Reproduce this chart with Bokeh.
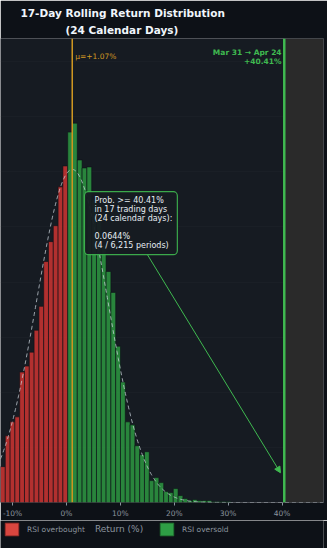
import numpy as np
from bokeh.plotting import figure
from bokeh.layouts import column
from bokeh.models import (Range1d, FixedTicker, SingleIntervalTicker, PrintfTickFormatter, Span,
                          BoxAnnotation, Label, Legend, LegendItem, Arrow, NormalHead, Title)
from bokeh.embed import file_html
from bokeh.resources import INLINE

# ---------------- data ----------------
bin_start = -12.24          # left edge of first visible bin (%)
bin_width = 0.8905          # bin width (%)
counts = [36, 67, 81, 86, 131, 137, 151, 173, 197, 242, 262, 278, 317, 338,
          372, 381, 344, 336, 337, 304, 284, 259, 232, 211, 157, 121, 81, 78,
          57, 48, 51, 22, 25, 20, 11, 10, 14, 7, 4, 2, 3, 2, 2, 2, 1, 1, 1, 1]
total_periods = 6215
exceed_count = 4
mean_return = 1.07
std_return = 6.6
event_return = 40.41
event_dates = "Mar 31 \u2192 Apr 24"
trading_days = 17
calendar_days = 24
tick_values = [-10, 0, 10, 20, 30, 40]
legend_labels = ["RSI overbought", "RSI oversold"]
x_label = "Return (%)"

FONT = "DejaVu Sans"
RED = "#da3633"
GREEN = "#2ea043"
LGREEN = "#3fb950"
ORANGE = "#d29922"
GRAY = "#8b949e"
BORDER = "#0d1117"
PANEL = "#161b22"

# ---------------- derived ----------------
lefts = np.array([bin_start + i * bin_width for i in range(len(counts))])
rights = lefts + bin_width
centers = lefts + bin_width / 2
density = np.array(counts) / (total_periods * bin_width)
neg = centers < 0
pos = ~neg

x0, x1 = -12.24, 47.69
y1 = 0.0842

p = figure(width=327, height=520, x_range=Range1d(x0, x1), y_range=Range1d(0, y1),
           output_backend="svg", toolbar_location=None,
           min_border_left=0, min_border_right=4, min_border_top=38, min_border_bottom=16,
           background_fill_color=PANEL, border_fill_color=BORDER,
           outline_line_color=None)

# titles (stacked: first added is nearest to frame)
t2 = Title(text=f"({calendar_days} Calendar Days)", align="left", offset=65,
           text_font=FONT, text_font_size="10.5px", text_font_style="bold",
           text_color="#f0f6fc", standoff=6, text_line_height=0.75)
t1 = Title(text=f"{trading_days}-Day Rolling Return Distribution", align="left", offset=20,
           text_font=FONT, text_font_size="10.5px", text_font_style="bold",
           text_color="#f0f6fc", standoff=0)
p.add_layout(t2, "above")
p.add_layout(t1, "above")

# shaded region beyond event
p.add_layout(BoxAnnotation(left=event_return, fill_color="#2a2a2a", fill_alpha=1.0,
                           line_color=None, level="underlay"))

# grid / axes
p.xgrid.visible = False
p.ygrid.ticker = SingleIntervalTicker(interval=0.01)
p.ygrid.grid_line_color = "#2d333b"
p.ygrid.grid_line_alpha = 0.18
p.yaxis.visible = False

ax = p.xaxis[0]
ax.ticker = FixedTicker(ticks=tick_values)
ax.formatter = PrintfTickFormatter(format="%d%%")
ax.major_label_text_font = FONT
ax.major_label_text_font_size = "7.5px"
ax.major_label_text_color = GRAY
ax.major_tick_line_color = GRAY
ax.major_tick_out = 3
ax.major_tick_in = 0
ax.minor_tick_line_color = None
ax.axis_line_color = None
ax.major_label_standoff = 3

# bars
bar_style = dict(fill_alpha=0.8, line_color=BORDER, line_width=0.6)
p.quad(left=lefts[neg], right=rights[neg], top=density[neg], bottom=0,
       fill_color=RED, **bar_style)
p.quad(left=lefts[pos], right=rights[pos], top=density[pos], bottom=0,
       fill_color=GREEN, **bar_style)

# normal fit curve
xs = np.linspace(x0, x1, 500)
ys = np.exp(-0.5 * ((xs - mean_return) / std_return) ** 2) / (std_return * np.sqrt(2 * np.pi))
p.line(xs, ys, line_color="#c9d1d9", line_alpha=0.75, line_width=1, line_dash="4 3")

# mean & event lines
p.add_layout(Span(location=mean_return, dimension="height", line_color=ORANGE, line_width=1.5))
p.add_layout(Span(location=event_return, dimension="height", line_color=LGREEN, line_width=2.5))

p.add_layout(Label(x=mean_return + 0.55, y=0.0809, text=f"\u03bc=+{mean_return:.2f}%",
                   text_font=FONT, text_font_size="7.5px", text_color=ORANGE,
                   text_baseline="middle", text_align="left"))
p.add_layout(Label(x=event_return - 0.5, y=0.0816, text=event_dates,
                   text_font=FONT, text_font_size="7.5px", text_font_style="bold",
                   text_color=LGREEN, text_baseline="middle", text_align="right"))
p.add_layout(Label(x=event_return - 0.5, y=0.0800, text=f"+{event_return:.2f}%",
                   text_font=FONT, text_font_size="7.5px", text_font_style="bold",
                   text_color=LGREEN, text_baseline="middle", text_align="right"))

# arrow from box to tail
p.add_layout(Arrow(x_start=15.0, y_start=0.0450, x_end=39.7, y_end=0.0054,
                   line_color=LGREEN, line_width=1,
                   end=NormalHead(size=6, fill_color=LGREEN, line_color=LGREEN)))

prob = exceed_count / total_periods * 100
box_text = (f"Prob. >= {event_return:.2f}%\nin {trading_days} trading days\n"
            f"({calendar_days} calendar days):\n\n{prob:.4f}%\n"
            f"({exceed_count} / {total_periods:,} periods)")
p.add_layout(Label(x=3.34, y=0.0564, text=box_text, text_font=FONT, text_font_size="8px",
                   text_color="#e6edf3", text_baseline="top", text_align="left",
                   text_line_height=1.0,
                   background_fill_color=PANEL, background_fill_alpha=0.95,
                   border_line_color=LGREEN, border_line_width=1.2, border_line_alpha=0.9,
                   padding=dict(left=10, right=5, top=4, bottom=5), border_radius=4))

# ---------------- legend strip (below the axis) ----------------
s = figure(width=327, height=28, x_range=Range1d(0, 327), y_range=Range1d(0, 28),
           output_backend="svg", toolbar_location=None,
           min_border_left=0, min_border_right=0, min_border_top=0, min_border_bottom=0,
           background_fill_color=BORDER, border_fill_color=BORDER, outline_line_color=None)
s.axis.visible = False
s.grid.visible = False

# legend proxies (kept outside the visible range of the strip)
r_red = s.quad(left=[-60], right=[-50], top=[-50], bottom=[-60], fill_color="#d9463f",
               line_color="#8c2a26", line_width=0.8)
r_green = s.quad(left=[-60], right=[-50], top=[-50], bottom=[-60], fill_color="#2e9e45",
                 line_color="#1e6b2c", line_width=0.8)

for item_r, lab, lx in [(r_red, legend_labels[0], 3), (r_green, legend_labels[1], 158)]:
    lg = Legend(items=[LegendItem(label=lab, renderers=[item_r])], location=(lx, 11),
                orientation="horizontal", padding=0, margin=0, spacing=0,
                border_line_color=None, background_fill_alpha=0,
                glyph_width=17, glyph_height=16, label_standoff=7,
                label_text_font=FONT, label_text_font_size="7.5px",
                label_text_color=GRAY)
    s.add_layout(lg, "center")

s.add_layout(Label(x=120, y=20, text=x_label, text_font=FONT, text_font_size="9px",
                   text_color=GRAY, text_align="center", text_baseline="middle"))

layout = column(p, s, spacing=0)
open("out.html", "w").write(file_html(layout, INLINE))
